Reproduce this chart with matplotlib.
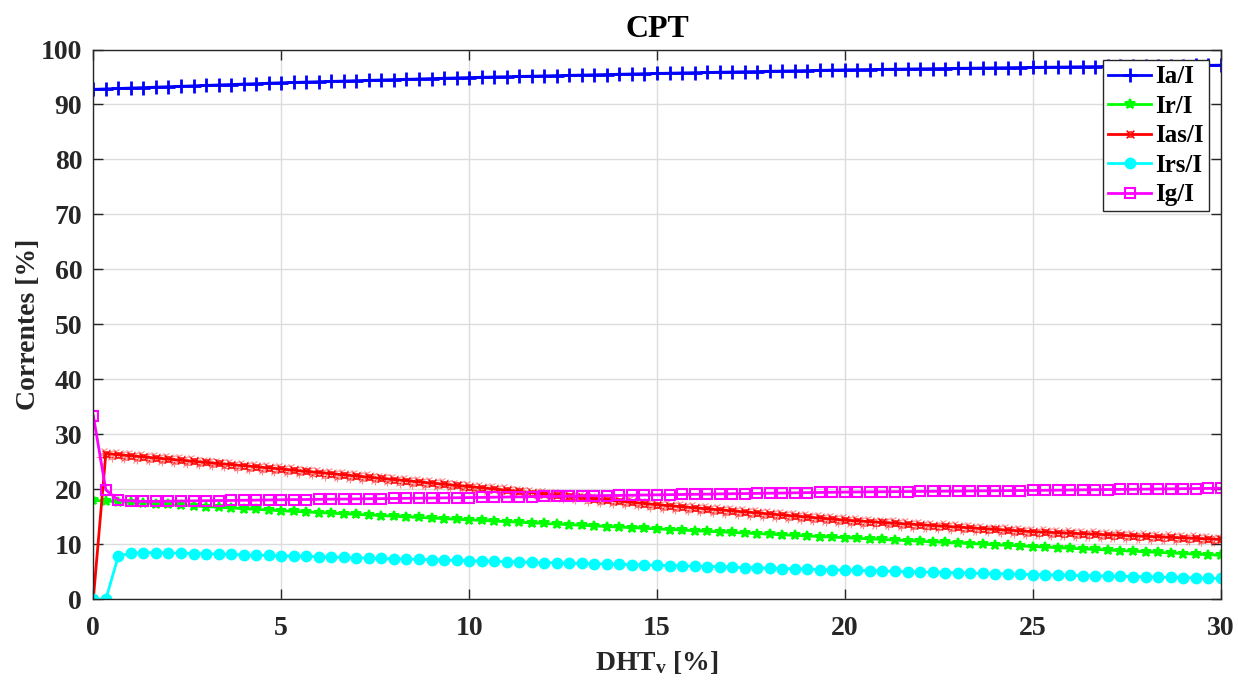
import numpy as np
import matplotlib
matplotlib.use('Agg')
import matplotlib.pyplot as plt

# DHT_v sweep, 91 samples from 0 to 30 %
dht_v = np.arange(91) / 3.0

ia = [92.75, 92.83, 92.91, 92.99, 93.07, 93.15, 93.23, 93.31, 93.39, 93.47, 93.55, 93.63, 93.71, 93.79, 93.87, 93.95,
      94.01, 94.08, 94.14, 94.20, 94.26, 94.33, 94.39, 94.45, 94.52, 94.58, 94.64, 94.71, 94.77, 94.83, 94.90,
      94.95, 95.00, 95.05, 95.10, 95.15, 95.20, 95.25, 95.30, 95.35, 95.40, 95.45, 95.50, 95.55, 95.60, 95.65,
      95.69, 95.74, 95.78, 95.82, 95.87, 95.91, 95.95, 95.99, 96.04, 96.08, 96.12, 96.17, 96.21, 96.25, 96.30,
      96.33, 96.36, 96.39, 96.42, 96.45, 96.48, 96.51, 96.54, 96.57, 96.60, 96.63, 96.66, 96.69, 96.72, 96.75,
      96.78, 96.80, 96.83, 96.86, 96.88, 96.91, 96.94, 96.96, 96.99, 97.02, 97.04, 97.07, 97.10, 97.12, 97.15]

ir = [18.00, 17.87, 17.75, 17.62, 17.50, 17.37, 17.25, 17.12, 17.00, 16.87, 16.74, 16.61, 16.49, 16.36, 16.23, 16.10,
      15.99, 15.88, 15.77, 15.66, 15.55, 15.44, 15.33, 15.22, 15.11, 15.00, 14.89, 14.78, 14.67, 14.56, 14.45,
      14.34, 14.23, 14.12, 14.01, 13.90, 13.79, 13.68, 13.57, 13.46, 13.35, 13.24, 13.13, 13.02, 12.91, 12.80,
      12.69, 12.59, 12.48, 12.37, 12.27, 12.16, 12.05, 11.95, 11.84, 11.73, 11.63, 11.52, 11.41, 11.31, 11.20,
      11.09, 10.99, 10.88, 10.77, 10.67, 10.56, 10.45, 10.35, 10.24, 10.13, 10.03, 9.92, 9.81, 9.71, 9.60,
      9.49, 9.39, 9.28, 9.17, 9.07, 8.96, 8.85, 8.75, 8.64, 8.53, 8.43, 8.32, 8.21, 8.11, 8.00]

ias = [0.00, 26.50, 26.30, 26.10, 25.90, 25.70, 25.50, 25.30, 25.10, 24.90, 24.70, 24.50, 24.30, 24.10, 23.90, 23.70,
       23.49, 23.27, 23.06, 22.85, 22.63, 22.42, 22.21, 21.99, 21.78, 21.57, 21.35, 21.14, 20.93, 20.71, 20.50,
       20.28, 20.06, 19.84, 19.62, 19.40, 19.18, 18.96, 18.74, 18.52, 18.30, 18.08, 17.86, 17.64, 17.42, 17.20,
       17.01, 16.83, 16.64, 16.45, 16.27, 16.08, 15.89, 15.71, 15.52, 15.33, 15.15, 14.96, 14.77, 14.59, 14.40,
       14.26, 14.12, 13.98, 13.84, 13.70, 13.56, 13.42, 13.28, 13.14, 13.00, 12.86, 12.72, 12.58, 12.44, 12.30,
       12.21, 12.11, 12.02, 11.93, 11.83, 11.74, 11.65, 11.55, 11.46, 11.37, 11.27, 11.18, 11.09, 10.99, 10.90]

irs = [0.00, 0.00, 7.90, 8.35, 8.50, 8.47, 8.43, 8.38, 8.33, 8.28, 8.22, 8.16, 8.10, 8.04, 7.98, 7.91,
       7.85, 7.79, 7.73, 7.67, 7.61, 7.55, 7.49, 7.43, 7.37, 7.31, 7.25, 7.19, 7.13, 7.07, 7.00,
       6.95, 6.89, 6.84, 6.79, 6.73, 6.68, 6.63, 6.57, 6.52, 6.47, 6.41, 6.36, 6.31, 6.25, 6.20,
       6.14, 6.08, 6.02, 5.96, 5.90, 5.84, 5.78, 5.72, 5.66, 5.60, 5.54, 5.48, 5.42, 5.36, 5.30,
       5.25, 5.19, 5.14, 5.09, 5.03, 4.98, 4.93, 4.87, 4.82, 4.77, 4.71, 4.66, 4.61, 4.55, 4.50,
       4.45, 4.41, 4.36, 4.31, 4.27, 4.22, 4.17, 4.13, 4.08, 4.03, 3.99, 3.94, 3.89, 3.85, 3.80]

ig = [33.40, 19.90, 18.05, 17.90, 17.80, 17.82, 17.85, 17.87, 17.90, 17.93, 17.96, 17.98, 18.01, 18.04, 18.07, 18.10,
      18.13, 18.15, 18.18, 18.21, 18.23, 18.26, 18.29, 18.31, 18.34, 18.37, 18.39, 18.42, 18.45, 18.47, 18.50,
      18.53, 18.57, 18.60, 18.63, 18.67, 18.70, 18.73, 18.77, 18.80, 18.83, 18.87, 18.90, 18.93, 18.97, 19.00,
      19.03, 19.07, 19.10, 19.13, 19.17, 19.20, 19.23, 19.27, 19.30, 19.33, 19.37, 19.40, 19.43, 19.47, 19.50,
      19.52, 19.54, 19.56, 19.58, 19.60, 19.62, 19.64, 19.66, 19.68, 19.70, 19.72, 19.74, 19.76, 19.78, 19.80,
      19.83, 19.85, 19.88, 19.91, 19.93, 19.96, 19.99, 20.01, 20.04, 20.07, 20.09, 20.12, 20.15, 20.17, 20.20]

plt.rcParams['font.family'] = ['Liberation Serif', 'DejaVu Serif']
plt.rcParams['font.weight'] = 'bold'
plt.rcParams['mathtext.fontset'] = 'custom'
plt.rcParams['mathtext.rm'] = 'Liberation Serif:bold'
plt.rcParams['mathtext.it'] = 'Liberation Serif:bold'
plt.rcParams['mathtext.bf'] = 'Liberation Serif:bold'

fig = plt.figure(figsize=(12.38, 6.84), dpi=100)
ax = fig.add_axes([93.3 / 1238, 1 - 599.3 / 684, (1220.7 - 93.3) / 1238, (599.3 - 49.5) / 684])

ax.plot(dht_v, ia, color='#0000ff', lw=2, marker='+', ms=10, mew=2, label='Ia/I')
ax.plot(dht_v, ir, color='#00ff00', lw=2, marker='*', ms=7, mew=1.5, label='Ir/I')

# Ias/I: solid line with a smear of mixed small markers on top
ax.plot(dht_v, ias, color='#ff0000', lw=2, label='Ias/I', marker='$\u2720$', ms=6, mew=0.2)
ias_marks = ['+', 'x', '1', '2', '3', '4', 'o']
for k, m in enumerate(ias_marks):
    ax.plot(dht_v[1:] + (k - 3) * 0.06, np.array(ias[1:]) + ((k * 2) % 5 - 2) * 0.35,
            ls='none', marker=m, ms=5, mew=0.8, mfc='none', color='#ff0000', alpha=0.45)

ax.plot(dht_v, irs, color='#00ffff', lw=2, marker='o', ms=7.5, mfc='#00ffff', mec='#00ffff', label='Irs/I')
ax.plot(dht_v, ig, color='#ff00ff', lw=2, marker='s', ms=6.5, mfc='none', mew=1.5, label='Ig/I')

ax.set_xlim(0, 30)
ax.set_ylim(0, 100)
ax.set_xticks(np.arange(0, 31, 5))
ax.set_yticks(np.arange(0, 101, 10))
ax.grid(True, color='#dcdcdc', lw=1)
ax.set_axisbelow(True)
ax.tick_params(direction='in', top=True, right=True, length=7, width=1, colors='#262626',
               labelsize=20, labelcolor='#262626')
ax.tick_params(axis='x', pad=12)
ax.tick_params(axis='y', pad=8)
for s in ax.spines.values():
    s.set_color('#262626')
    s.set_linewidth(1)

ax.set_title('CPT', fontsize=23, fontweight='bold', pad=9)
ax.set_xlabel(r'DHT$_{\mathrm{v}}$ [%]', fontsize=20, fontweight='bold', color='#262626', labelpad=6)
ax.set_ylabel('Correntes [%]', fontsize=20, fontweight='bold', color='#262626', labelpad=0)

leg = ax.legend(loc='upper right', bbox_to_anchor=(0.9895, 0.98), fontsize=18, frameon=True, fancybox=False,
                edgecolor='#262626', framealpha=1, handlelength=1.75, handletextpad=0.15,
                labelspacing=0.26, borderpad=0.2, borderaxespad=0)
leg.get_frame().set_linewidth(1)
for t in leg.get_texts():
    t.set_fontweight('bold')

fig.savefig('out.png', dpi=100)
